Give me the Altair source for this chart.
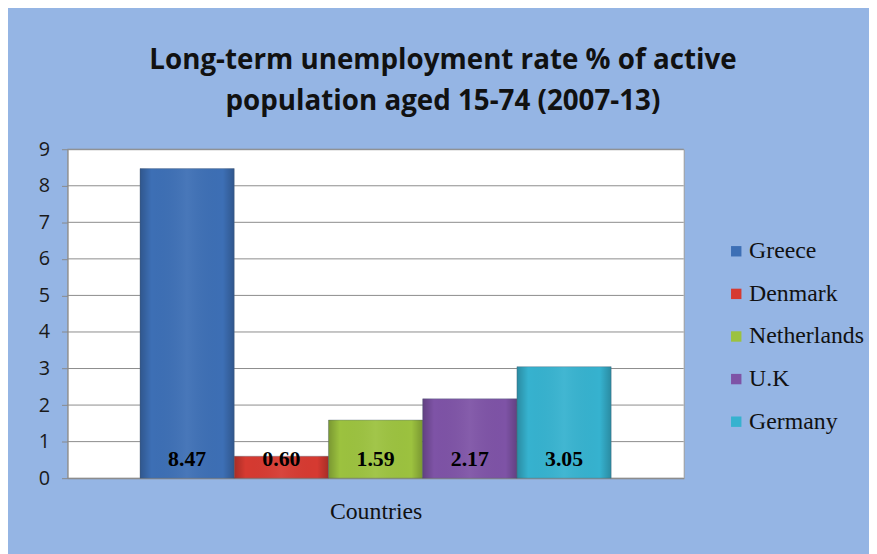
import altair as alt
import pandas as pd

countries = ["Greece", "Denmark", "Netherlands", "U.K", "Germany"]
values = [8.47, 0.60, 1.59, 2.17, 3.05]
labels = ["8.47", "0.60", "1.59", "2.17", "3.05"]
zeros = [0, 0, 0, 0, 0]
colors = ["#3d6fb5", "#d63a31", "#9cc23f", "#7e53a6", "#36b2cf"]
y_ticks = [0, 1, 2, 3, 4, 5, 6, 7, 8, 9]

df = pd.DataFrame({"Country": countries, "Value": values, "Label": labels, "Zero": zeros})
ticks_df = pd.DataFrame({"Tick": y_ticks})

y_scale = alt.Scale(domain=[0, 9], nice=False, zero=True)
y_axis = alt.Axis(title=None, values=y_ticks, labelOverlap=False, grid=False,
                  tickColor="#8a8a8a", tickSize=6, domainColor="#8a8a8a",
                  labelFont="Open Sans", labelFontSize=20, labelColor="#1a1a1a",
                  labelPadding=12)

x = alt.X("Country:N", sort=countries,
          scale=alt.Scale(paddingInner=0, paddingOuter=0.77),
          axis=alt.Axis(title="Countries", labels=False, ticks=False,
                        domainColor="#8a8a8a", titleFont="Liberation Serif",
                        titleFontSize=24, titleFontWeight="normal",
                        titleColor="#111", titlePadding=22))

grid = alt.Chart(ticks_df).mark_rule(color="#8c8c8c", strokeWidth=1).encode(
    y=alt.Y("Tick:Q", scale=y_scale, axis=y_axis),
)

bars = alt.Chart(df).mark_bar(strokeWidth=0.8, stroke="#5a6a80", strokeOpacity=0.5).encode(
    x=x,
    y=alt.Y("Value:Q", scale=y_scale, axis=y_axis),
    color=alt.Color("Country:N", sort=countries,
                    scale=alt.Scale(domain=countries, range=colors),
                    legend=alt.Legend(title=None, orient="none", legendX=663, legendY=91,
                                      symbolType="square", symbolSize=110,
                                      symbolStrokeWidth=0, labelFont="Liberation Serif",
                                      labelFontSize=24, labelColor="#111",
                                      rowPadding=19, labelOffset=1)),
)

shade = alt.Chart(df).mark_bar(
    color=alt.Gradient(
        gradient="linear", x1=0, x2=1, y1=0, y2=0,
        stops=[alt.GradientStop(color="rgba(0,0,0,0.22)", offset=0),
               alt.GradientStop(color="rgba(0,0,0,0.0)", offset=0.12),
               alt.GradientStop(color="rgba(255,255,255,0.06)", offset=0.5),
               alt.GradientStop(color="rgba(0,0,0,0.0)", offset=0.88),
               alt.GradientStop(color="rgba(0,0,0,0.22)", offset=1)]),
).encode(
    x=alt.X("Country:N", sort=countries),
    y=alt.Y("Value:Q", scale=y_scale, axis=y_axis),
)

text = alt.Chart(df).mark_text(font="Liberation Serif", fontSize=22, fontWeight="bold",
                               color="black", baseline="bottom", dy=-7).encode(
    x=alt.X("Country:N", sort=countries),
    y=alt.Y("Zero:Q", scale=y_scale, axis=y_axis),
    text="Label:N",
)

chart = (grid + bars + shade + text).properties(
    width=622,
    height=332,
    autosize=alt.AutoSizeParams(type="none"),
    padding={"left": 60, "top": 140, "right": 187, "bottom": 74},
    background="#95b5e4",
    title=alt.TitleParams(
        text=["Long-term unemployment rate % of active", "population aged 15-74 (2007-13)"],
        font="Open Sans", fontSize=28, fontWeight="bold", color="#111",
        anchor="middle", dx=68, offset=24, lineHeight=41,
    ),
).configure_view(fill="white", stroke="#9a9a9a", strokeWidth=1)

chart.save("out.html", embed_options={"renderer": "svg", "actions": False})
